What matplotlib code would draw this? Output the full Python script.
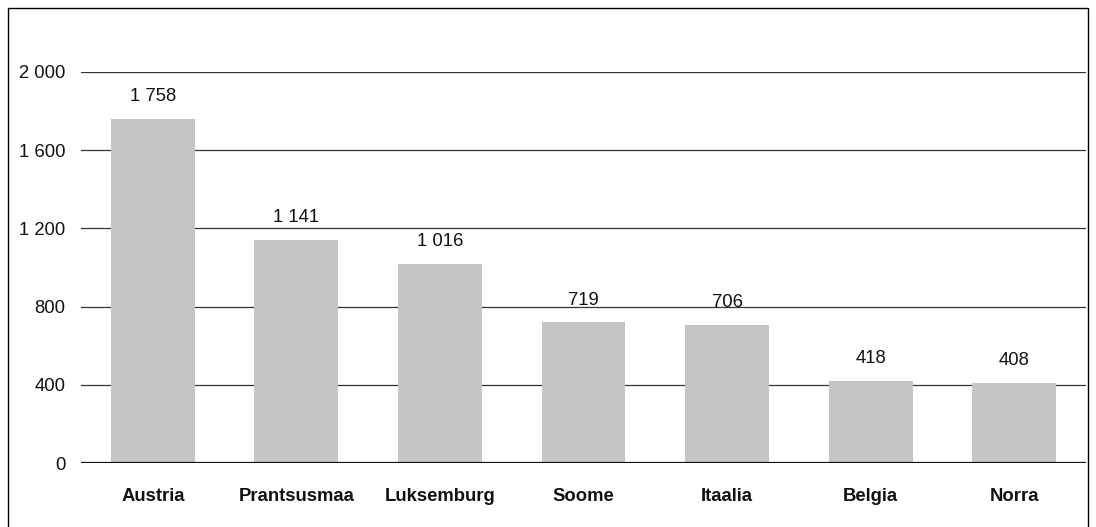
import matplotlib.pyplot as plt
from matplotlib.patches import Rectangle

plt.rcParams["font.family"] = ["Liberation Sans", "DejaVu Sans"]

countries = ["Austria", "Prantsusmaa", "Luksemburg", "Soome", "Itaalia", "Belgia", "Norra"]
values = [1758, 1141, 1016, 719, 706, 418, 408]
yticks = [0, 400, 800, 1200, 1600, 2000]

BAR_COLOR = "#c4c5c7"
FS = 13.3


def fmt(v):
    return f"{v:,}".replace(",", " ")


fig = plt.figure(figsize=(10.96, 5.27), dpi=100, facecolor="white")
ax = fig.add_axes([81 / 1096, 64 / 527, 1005 / 1096, 391 / 527])

x = range(len(countries))
ax.bar(x, values, width=0.585, color=BAR_COLOR, zorder=2)
for t in yticks[1:]:
    ax.axhline(t, color="#333333", lw=0.9, zorder=1)
ax.axhline(0, color="#111111", lw=1.6, zorder=3)

for xi, v in zip(x, values):
    ax.annotate(fmt(v), (xi, v), textcoords="offset points", xytext=(0, 10),
                ha="center", va="bottom", fontsize=FS, color="#111111")

ax.set_xlim(-0.5, len(countries) - 0.5)
ax.set_ylim(0, 2000)
ax.set_yticks(yticks)
ax.set_yticklabels([fmt(t) for t in yticks], fontsize=FS, color="#111111")
ax.set_xticks(list(x))
ax.set_xticklabels(countries, fontsize=FS, fontweight="bold", color="#111111")
ax.tick_params(axis="y", length=0, pad=11)
ax.tick_params(axis="x", length=0, pad=18)
for s in ax.spines.values():
    s.set_visible(False)

fig.patches.append(Rectangle((8 / 1096, -0.05), 1080 / 1096, 1.05 - 8 / 527,
                             transform=fig.transFigure, fill=False,
                             edgecolor="black", lw=1.0))

fig.savefig("out.png", dpi=100, facecolor="white")
